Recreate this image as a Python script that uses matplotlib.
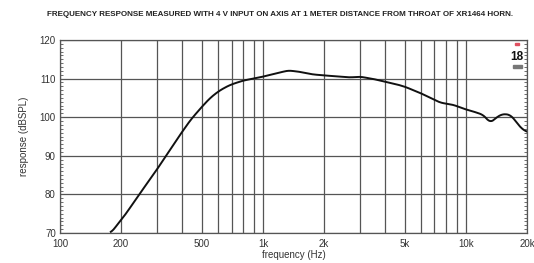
import matplotlib
matplotlib.use("Agg")
import matplotlib.pyplot as plt
from matplotlib.ticker import FixedLocator, MultipleLocator, NullFormatter
import numpy as np

plt.rcParams['font.family'] = ['Liberation Sans', 'DejaVu Sans']

title = "FREQUENCY RESPONSE MEASURED WITH 4 V INPUT ON AXIS AT 1 METER DISTANCE FROM THROAT OF XR1464 HORN."
freq = [178, 210, 248, 299, 345, 390, 440, 500, 550, 600, 650, 700, 800, 900, 1000, 1150,
        1333, 1500, 1750, 2020, 2300, 2683, 3005, 3500, 4067, 4500, 5000, 6000, 7000,
        7447, 8000, 8505, 9000, 10000, 11000, 12170, 12700, 13130, 13800, 14990, 16480,
        17430, 18400, 20000]
spl = [70.0, 74.8, 80.3, 86.3, 91.2, 95.4, 99.3, 102.7, 105.0, 106.6, 107.7, 108.5, 109.5,
       110.0, 110.5, 111.3, 112.1, 111.8, 111.1, 110.8, 110.6, 110.3, 110.5, 109.9, 109.1,
       108.6, 107.9, 106.2, 104.5, 103.8, 103.5, 103.3, 102.9, 102.0, 101.4, 100.6, 99.6,
       98.4, 99.5, 100.8, 100.7, 99.3, 97.5, 96.1]
xticks = [100, 200, 500, 1000, 2000, 5000, 10000, 20000]
xticklabels = ["100", "200", "500", "1k", "2k", "5k", "10k", "20k"]
yticks = [70, 80, 90, 100, 110, 120]

fig = plt.figure(figsize=(5.34, 2.63), dpi=100)
ax = fig.add_axes([60/534, 1-233/263, (527-60)/534, (233-40)/263])

# smooth curve in log-frequency space
lf = np.log10(freq)
xs = np.linspace(lf[0], lf[-1], 600)
ys = np.interp(xs, lf, spl)
k = 5
ys_s = np.convolve(np.pad(ys, k, mode='edge'), np.ones(2*k+1)/(2*k+1), mode='valid')
ax.plot(10**xs, ys_s, color='#111111', lw=1.4, zorder=3)

ax.set_xscale('log')
ax.set_xlim(100, 20000)
ax.set_ylim(70, 120)

grid_x = [m*10**e for e in (2, 3, 4) for m in range(1, 10) if 100 <= m*10**e <= 20000]
ax.xaxis.set_major_locator(FixedLocator(xticks))
ax.set_xticklabels(xticklabels)
ax.xaxis.set_minor_locator(FixedLocator([g for g in grid_x if g not in xticks]))
ax.xaxis.set_minor_formatter(NullFormatter())
for g in grid_x:
    ax.axvline(g, color='#555555', lw=0.9, zorder=1)
ax.set_yticks(yticks)
ax.yaxis.set_minor_locator(MultipleLocator(1))
for yv in yticks:
    ax.axhline(yv, color='#555555', lw=0.9, zorder=1)

ax.tick_params(axis='x', which='both', length=0, labelsize=7, colors='#333333', pad=4)
ax.tick_params(axis='y', which='major', length=0, labelsize=7, colors='#333333', pad=3)
ax.tick_params(axis='y', which='minor', length=2.5, width=0.6, direction='in',
               left=True, right=True, color='#555555')
for s in ax.spines.values():
    s.set_color('#555555')
    s.set_linewidth(0.9)

ax.set_xlabel("frequency (Hz)", fontsize=7, color='#333333', labelpad=1)
ax.set_ylabel("response (dBSPL)", fontsize=7, color='#333333', labelpad=8)

fig.text(280/534, 1-15/263, title, fontsize=5.8, fontweight='bold', ha='center', va='center',
         color='#222222')

# small logo in the top-right corner
fig.text(517/534, 1-56.5/263, "18", fontsize=8.5, fontweight='bold', ha='center', va='center',
         color='#111111', zorder=5)
fig.patches.append(plt.Rectangle((515/534, 1-45/263), 4/534, 2/263, transform=fig.transFigure,
                                 color='#e05060', zorder=5))
fig.patches.append(plt.Rectangle((512.5/534, 1-68/263), 9/534, 3/263, transform=fig.transFigure,
                                 color='#777777', zorder=5))

fig.savefig("out.png", dpi=100)
